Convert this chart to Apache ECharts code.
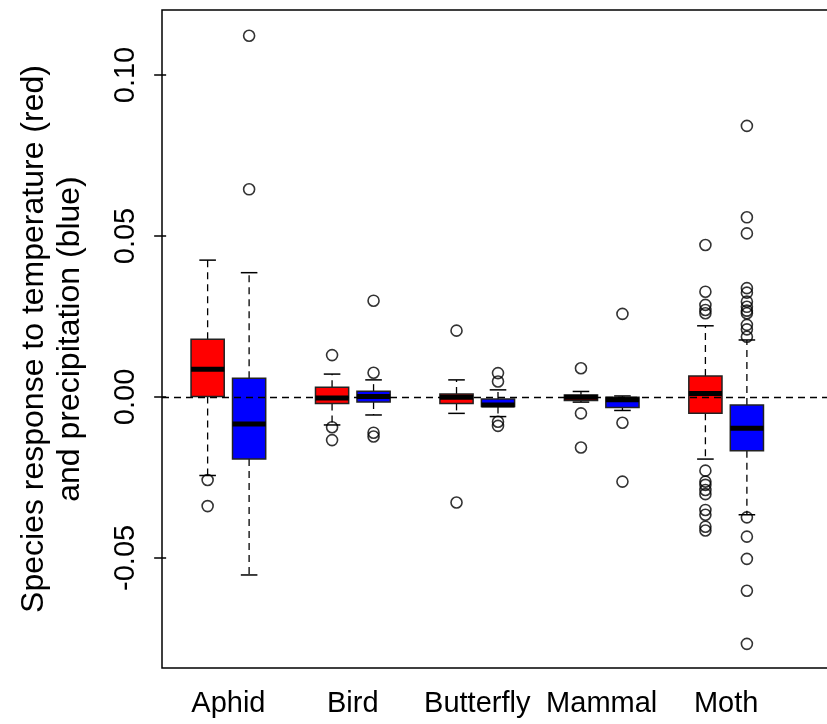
<!DOCTYPE html>
<html>
<head>
<meta charset="utf-8">
<script src="https://cdn.jsdelivr.net/npm/echarts@6/dist/echarts.min.js"></script>
<style>
html, body { margin: 0; padding: 0; background: #fff; }
#boxChart { width: 827px; height: 724px; }
</style>
</head>
<body>
<div id="boxChart"></div>
<script>
var groups = ['Aphid', 'Bird', 'Butterfly', 'Mammal', 'Moth'];
var yTicks = [-0.05, 0, 0.05, 0.1];

// [low whisker, q1, median, q3, high whisker]
var tempStats = [
	[-0.0244, 0.0001, 0.0086, 0.0179, 0.0425],
	[-0.0087, -0.0020, -0.0003, 0.0030, 0.0071],
	[-0.0051, -0.0020, -0.0001, 0.0009, 0.0053],
	[-0.0016, -0.0011, -0.0001, 0.0006, 0.0017],
	[-0.0193, -0.0051, 0.0011, 0.0065, 0.0221]
];
var precStats = [
	[-0.0553, -0.0193, -0.0084, 0.0058, 0.0386],
	[-0.0056, -0.0016, 0.0001, 0.0018, 0.0053],
	[-0.0061, -0.0030, -0.0025, -0.0006, 0.0022],
	[-0.0042, -0.0033, -0.0009, -0.0001, 0.0003],
	[-0.0366, -0.0167, -0.0097, -0.0025, 0.0177]
];
var tempOutliers = [
	[-0.0258, -0.0339],
	[0.0130, -0.0094, -0.0134],
	[0.0206, -0.0328],
	[0.0089, -0.0051, -0.0157],
	[0.0472, 0.0327, 0.0286, 0.0270, 0.0260, -0.0229, -0.0263, -0.0273, -0.0289, -0.0302, -0.0351, -0.0366, -0.0403, -0.0415]
];
var precOutliers = [
	[0.1122, 0.0645],
	[0.0299, 0.0075, -0.0111, -0.0123],
	[0.0074, 0.0048, -0.0077, -0.0090],
	[0.0258, -0.0080, -0.0263],
	[0.0842, 0.0558, 0.0508, 0.0338, 0.0324, 0.0296, 0.0280, 0.0268, 0.0260, 0.0224, 0.0210, 0.0187, -0.0374, -0.0434, -0.0503, -0.0602, -0.0767]
];

var FONT = '"Liberation Sans", Arial, Helvetica, sans-serif';

// boxes sit at 1,2 / 4,5 / 7,8 ... like boxplot(at=...)
function boxPos(i, k) { return i * 3 + 1 + k; }
function groupPos(i) { return i * 3 + 1.5; }

function boxData(stats, k) {
	return stats.map(function (s, i) {
		return [boxPos(i, k)].concat(s);
	});
}
function pointData(outs, k) {
	var res = [];
	outs.forEach(function (list, i) {
		list.forEach(function (v) { res.push([boxPos(i, k), v]); });
	});
	return res;
}

function renderBox(params, api) {
	var x = api.value(0);
	var low = api.coord([x, api.value(1)]);
	var q1 = api.coord([x, api.value(2)]);
	var med = api.coord([x, api.value(3)]);
	var q3 = api.coord([x, api.value(4)]);
	var high = api.coord([x, api.value(5)]);
	var half = api.size([0.4, 0])[0];
	var cap = half / 2;
	var fill = api.visual('color');
	var dash = { stroke: '#000', lineWidth: 1.3, lineDash: [7, 5] };
	var solid = { stroke: '#000', lineWidth: 1.5 };
	return {
		type: 'group',
		children: [
			{ type: 'line', shape: { x1: q3[0], y1: q3[1], x2: high[0], y2: high[1] }, style: dash },
			{ type: 'line', shape: { x1: q1[0], y1: q1[1], x2: low[0], y2: low[1] }, style: dash },
			{ type: 'line', shape: { x1: high[0] - cap, y1: high[1], x2: high[0] + cap, y2: high[1] }, style: solid },
			{ type: 'line', shape: { x1: low[0] - cap, y1: low[1], x2: low[0] + cap, y2: low[1] }, style: solid },
			{ type: 'rect', shape: { x: q3[0] - half, y: q3[1], width: half * 2, height: q1[1] - q3[1] },
				style: { fill: fill, stroke: '#222', lineWidth: 1.5 } },
			{ type: 'line', shape: { x1: med[0] - half, y1: med[1], x2: med[0] + half, y2: med[1] },
				style: { stroke: '#000', lineWidth: 5 } }
		]
	};
}

var chart = echarts.init(document.getElementById('boxChart'));
var option = {
	animation: false,
	backgroundColor: '#fff',
	textStyle: { fontFamily: FONT },
	grid: {
		left: 162,
		right: -7,
		top: 10,
		bottom: 56,
		outerBoundsMode: 'none',
		containLabel: false,
		show: true,
		borderColor: '#000',
		borderWidth: 1.5
	},
	xAxis: {
		type: 'value',
		min: -0.1,
		max: 16.1,
		axisLine: { show: false },
		axisTick: { show: false },
		splitLine: { show: false },
		axisLabel: {
			customValues: groups.map(function (g, i) { return groupPos(i); }),
			formatter: function (v) { return groups[Math.round((v - 1.5) / 3)]; },
			fontSize: 29,
			color: '#000',
			margin: 21,
			fontFamily: FONT
		}
	},
	yAxis: {
		type: 'value',
		min: -0.0842,
		max: 0.1202,
		name: 'Species response to temperature (red)\nand precipitation (blue)',
		nameLocation: 'middle',
		nameGap: 74,
		nameTextStyle: { fontSize: 32, color: '#000', lineHeight: 36, fontFamily: FONT },
		axisLine: { show: false },
		splitLine: { show: false },
		axisTick: {
			show: true,
			customValues: yTicks,
			length: 12,
			lineStyle: { color: '#000', width: 1.5 }
		},
		axisLabel: {
			customValues: yTicks,
			rotate: 90,
			formatter: function (v) { return v.toFixed(2); },
			fontSize: 29,
			color: '#000',
			margin: 22,
			fontFamily: FONT
		}
	},
	series: [{
		name: 'temperature',
		type: 'custom',
		renderItem: renderBox,
		itemStyle: { color: '#ff0000' },
		encode: { x: 0, y: [1, 2, 3, 4, 5] },
		data: boxData(tempStats, 0),
		z: 2
	}, {
		name: 'precipitation',
		type: 'custom',
		renderItem: renderBox,
		itemStyle: { color: '#0000ff' },
		encode: { x: 0, y: [1, 2, 3, 4, 5] },
		data: boxData(precStats, 1),
		z: 2
	}, {
		name: 'outliers',
		type: 'scatter',
		symbol: 'circle',
		symbolSize: 11,
		itemStyle: { color: 'rgba(0,0,0,0)', borderColor: '#000', borderWidth: 1.6 },
		data: pointData(tempOutliers, 0).concat(pointData(precOutliers, 1)),
		z: 3,
		markLine: {
			silent: true,
			symbol: ['none', 'none'],
			label: { show: false },
			lineStyle: { color: '#000', type: [7, 5], width: 1.3 },
			data: [{ yAxis: 0 }]
		}
	}]
};
chart.setOption(option);
</script>
</body>
</html>
